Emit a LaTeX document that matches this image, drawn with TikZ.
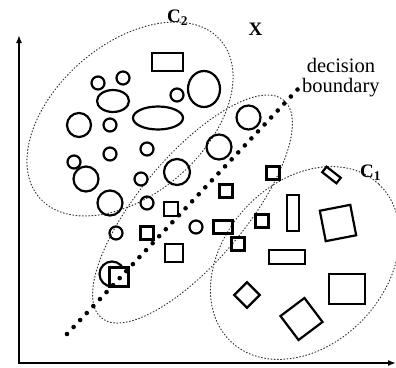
\documentclass[tikz,border=0pt]{standalone}
\usepackage{fontspec}
\setmainfont{Liberation Serif}
\usetikzlibrary{shapes.geometric,arrows.meta}
\begin{document}
\begin{tikzpicture}[x=1pt,y=-1pt,
  obj/.style={draw, line width=2.2pt, inner sep=0pt, outer sep=0pt},
  circ/.style={obj, circle, minimum size=#1},
  oval/.style 2 args={obj, ellipse, minimum width=#1, minimum height=#2},
  box/.style 2 args={obj, rectangle, minimum width=#1, minimum height=#2},
  region/.style={draw=black!80, ellipse, line width=1pt, dash pattern=on 0.9pt off 2.3pt, line cap=round, inner sep=0pt, outer sep=0pt},
  axis/.style={line width=2.5pt, {Latex[length=8pt,width=6pt]}-{Latex[length=8pt,width=6pt]}},
  lbl/.style={inner sep=0pt, font=\fontsize{19}{19}\selectfont\bfseries},
  txt/.style={inner sep=0pt, font=\fontsize{20.5}{20.5}\selectfont},
  dotline/.style={line width=4.6pt, line cap=round, dash pattern=on 0pt off 9.6pt},
]
\useasboundingbox (0,0) rectangle (396,367);

% axes
\coordinate (O) at (19,363);
\coordinate (Ytip) at (19,35);
\coordinate (Xtip) at (396,363);
\draw[axis] (Ytip) -- (O) -- (Xtip);

% cluster regions
\node[region, minimum width=240pt, minimum height=150pt, rotate=41] (c2reg) at (130,119) {};
\node[region, minimum width=284pt, minimum height=106pt, rotate=50] (midreg) at (192.5,209) {};
\node[region, minimum width=216pt, minimum height=162pt, rotate=47] (c1reg) at (305,263) {};

% circles
\node[circ=13] (k1) at (98,83) {};
\node[circ=13] (k2) at (123,78) {};
\node[circ=13] (k3) at (177,95) {};
\node[circ=13] (k4) at (110,125) {};
\node[circ=24] (k5) at (79,125) {};
\node[circ=13] (k6) at (147,149) {};
\node[circ=13] (k7) at (110,154) {};
\node[circ=13] (k8) at (74,162) {};
\node[circ=25] (k9) at (86,179) {};
\node[circ=13] (k10) at (141,179) {};
\node[circ=25] (k11) at (110,203) {};
\node[circ=13] (k12) at (147,203) {};
\node[circ=24] (k13) at (248.5,117.5) {};
\node[circ=25] (k14) at (219,147) {};
\node[circ=26] (k15) at (177,172) {};
\node[circ=13] (k16) at (116,233) {};
\node[circ=13] (k17) at (196,227) {};
\node[circ=25] (k18) at (112,274) {};

% ellipses
\node[oval={32}{22}] (e1) at (113,101) {};
\node[oval={50}{23}] (e2) at (158,118) {};
\node[oval={32}{36}] (e3) at (204,89) {};

% rectangles
\node[box={31}{18}] (r1) at (167.5,62) {};
\node[box={14}{14}] (r2) at (171,209) {};
\node[box={13}{13}] (r3) at (226,191) {};
\node[box={13}{13}] (r4) at (273,173) {};
\node[box={13}{13}] (r5) at (147,233) {};
\node[box={19}{13}] (r6) at (223,227) {};
\node[box={13}{13}] (r7) at (262,221) {};
\node[box={12}{36}] (r8) at (293,213) {};
\node[box={13}{13}] (r9) at (238,244) {};
\node[box={18}{18}] (r10) at (174,253) {};
\node[box={19}{19}, fill=white] (r11) at (119,277) {};
\node[box={36}{14}] (r12) at (287,257) {};
\node[box={31}{31}, rotate=11] (r13) at (338,223) {};
\node[box={18}{18}, rotate=45] (r14) at (247,295) {};
\node[box={36}{30}] (r15) at (347,289) {};
\node[box={30}{30}, rotate=37] (r16) at (301.5,319) {};
\node[box={18}{7}, rotate=-38] (r17) at (331.5,175) {};

% decision boundary
\coordinate (b0) at (67,334);
\coordinate (b1) at (298,89);
\draw[dotline] (b0) -- (b1);

% labels
\node[txt, anchor=base] (dec) at (341,72) {decision};
\node[txt, anchor=base west] (bnd) at (302,92) {boundary};
\node[lbl, anchor=base] (X) at (255.5,35) {X};
\node[lbl, anchor=base west] (C2) at (167,22.5) {C\textsubscript{2}};
\node[lbl, anchor=base west] (C1) at (360,177.5) {C\textsubscript{1}};
\end{tikzpicture}
\end{document}
